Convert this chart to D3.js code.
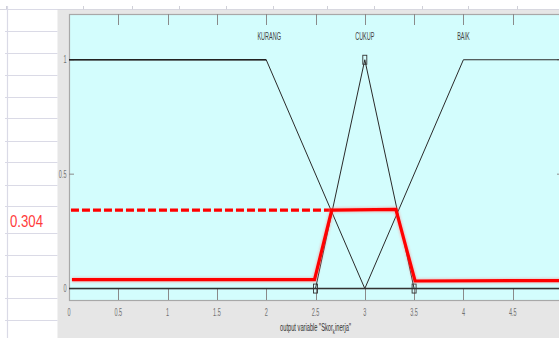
<!DOCTYPE html>
<html><head><meta charset="utf-8">
<script src="https://cdn.jsdelivr.net/npm/d3@7"></script>
<style>html,body{margin:0;padding:0;background:#fff;overflow:hidden}</style>
</head><body>
<svg id="chart" width="559" height="338"></svg>
<script>
// ---- data ----
const xTicks = [0, 0.5, 1, 1.5, 2, 2.5, 3, 3.5, 4, 4.5];
const xTickLabels = ["0", "0.5", "1", "1.5", "2", "2.5", "3", "3.5", "4", "4.5"];
const yTicks = [0, 0.5, 1];
const yTickLabels = ["0", "0.5", "1"];
const mfNames = ["KURANG", "CUKUP", "BAIK"];
const mfLabelX = [2.03, 3, 4];
const mfKurang = [[0, 1], [2, 1], [3, 0], [5, 0]];
const mfCukup = [[0, 0], [2.5, 0], [3, 1], [3.5, 0], [5, 0]];
const mfBaik = [[0, 0], [3, 0], [4, 1], [5, 1]];
const cukupParams = [[2.5, 0], [3, 1], [3.5, 0]];
const redSolid = [[0.03, 0.039], [2.49, 0.039], [2.665, 0.343], [3.315, 0.346], [3.51, 0.033], [5, 0.035]];
const redDashed = [[0.02, 0.343], [2.665, 0.343]];
const annotationValue = "0.304";
const xLabelParts = ['output variable "Skor', 'k', 'inerja"'];
const sheetRows = [9, 31, 53, 75, 97, 118, 141, 162, 185, 206, 233, 255, 276, 298, 320];
const headerSeps = [6, 83, 132, 179, 226, 273, 327, 374, 422, 468, 517];

// ---- drawing ----
const svg = d3.select("#chart");
const W = 559, H = 338;
const L = 69, R = 562, T = 14, B = 300;
const x = d3.scaleLinear().domain([0, 5]).range([L, R]);
const y = d3.scaleLinear().domain([-0.05, 1.2]).range([B, T]);

// spreadsheet background
svg.append("rect").attr("width", W).attr("height", H).attr("fill", "#ffffff");
svg.append("rect").attr("x", 57.5).attr("y", 9.5).attr("width", W - 57.5).attr("height", H - 9.5).attr("fill", "#e6e6e6");
svg.append("line").attr("x1", 0).attr("x2", W).attr("y1", 9.5).attr("y2", 9.5).attr("stroke", "#d8d8e0").attr("stroke-width", 1);
svg.selectAll(".hsep").data(headerSeps).enter().append("line")
  .attr("x1", d => d + 0.5).attr("x2", d => d + 0.5).attr("y1", 6).attr("y2", 9.5)
  .attr("stroke", "#d0d0d8");
svg.selectAll(".row").data(sheetRows).enter().append("line")
  .attr("x1", 5).attr("x2", 57.5).attr("y1", d => d + 0.5).attr("y2", d => d + 0.5)
  .attr("stroke", "#dadae6").attr("stroke-width", 1.2);
svg.append("line").attr("x1", 7.5).attr("x2", 7.5).attr("y1", 6).attr("y2", H)
  .attr("stroke", "#dadae6").attr("stroke-width", 1.2);

// annotation
svg.append("text").attr("x", 10).attr("y", 227).text(annotationValue)
  .attr("font-family", "Liberation Sans, Arial, sans-serif").attr("font-size", 16)
  .attr("fill", "#ff3b3b").attr("textLength", 33).attr("lengthAdjust", "spacingAndGlyphs");

// plot area
svg.append("rect").attr("x", L + 0.5).attr("y", T + 0.5).attr("width", R - L).attr("height", B - T)
  .attr("fill", "#d3fdfd").attr("stroke", "#a8a8a8").attr("stroke-width", 1.2);

const tickCol = "#8a8a8a";
const xt = xTicks.filter(d => d > 0);
svg.selectAll(".xtt").data(xt).enter().append("line")
  .attr("x1", d => Math.round(x(d)) + 0.5).attr("x2", d => Math.round(x(d)) + 0.5)
  .attr("y1", T).attr("y2", T + 11).attr("stroke", tickCol);
svg.selectAll(".xtb").data(xt).enter().append("line")
  .attr("x1", d => Math.round(x(d)) + 0.5).attr("x2", d => Math.round(x(d)) + 0.5)
  .attr("y1", B).attr("y2", B - 11).attr("stroke", tickCol);
svg.selectAll(".ytl").data(yTicks).enter().append("line")
  .attr("x1", L).attr("x2", L + 5).attr("y1", d => y(d)).attr("y2", d => y(d)).attr("stroke", tickCol);
svg.selectAll(".ytr").data(yTicks).enter().append("line")
  .attr("x1", R).attr("x2", R - 5).attr("y1", d => y(d)).attr("y2", d => y(d)).attr("stroke", tickCol);

const smallFont = "Liberation Sans, Arial, sans-serif";
function condText(sel, tx, ty, str, anchor, size, sx, fill) {
  return sel.append("text")
    .attr("transform", `translate(${tx},${ty}) scale(${sx},1)`)
    .attr("text-anchor", anchor).attr("font-family", smallFont)
    .attr("font-size", size).attr("fill", fill).text(str);
}
xTicks.forEach((d, i) => condText(svg, x(d), 316, xTickLabels[i], "middle", 10, 0.55, "#707070"));
yTicks.forEach((d, i) => condText(svg, 66.5, y(d) + 3.5, yTickLabels[i], "end", 10, 0.55, "#707070"));

// membership functions
const line = d3.line().x(d => x(d[0])).y(d => y(d[1]));
[mfKurang, mfCukup, mfBaik].forEach(mf => {
  svg.append("path").attr("d", line(mf)).attr("fill", "none")
    .attr("stroke", "#2a2a2a").attr("stroke-width", 1);
});
svg.append("line").attr("x1", x(0)).attr("x2", x(5)).attr("y1", y(0)).attr("y2", y(0))
  .attr("stroke", "#333").attr("stroke-width", 1.4);
svg.append("line").attr("x1", x(0)).attr("x2", x(2)).attr("y1", y(1)).attr("y2", y(1))
  .attr("stroke", "#222").attr("stroke-width", 1.4);

mfNames.forEach((n, i) => condText(svg, x(mfLabelX[i]), 40, n, "middle", 11, 0.5, "#404040"));

svg.selectAll(".sq").data(cukupParams).enter().append("rect")
  .attr("x", d => x(d[0]) - 2).attr("y", d => y(d[1]) - 4.5)
  .attr("width", 4).attr("height", 9).attr("fill", "none")
  .attr("stroke", "#333").attr("stroke-width", 0.9);

// red overlay
const defs = svg.append("defs");
defs.append("filter").attr("id", "glow").append("feGaussianBlur").attr("stdDeviation", 1.2);
[[redDashed, "8,3"], [redSolid, null]].forEach(([pts, dash]) => {
  svg.append("path").attr("d", line(pts)).attr("fill", "none")
    .attr("stroke", "#ff8080").attr("stroke-width", 5).attr("opacity", 0.45)
    .attr("filter", "url(#glow)").attr("stroke-dasharray", dash);
  svg.append("path").attr("d", line(pts)).attr("fill", "none")
    .attr("stroke", "#ff0000").attr("stroke-width", 3.2)
    .attr("stroke-dasharray", dash);
});

// x axis label with subscript
const xl = svg.append("text")
  .attr("transform", `translate(${(L + R) / 2},331) scale(0.52,1)`)
  .attr("text-anchor", "middle").attr("font-family", smallFont)
  .attr("font-size", 11).attr("fill", "#303030");
xl.append("tspan").text(xLabelParts[0]);
xl.append("tspan").attr("dy", 3).attr("font-size", 8).text(xLabelParts[1]);
xl.append("tspan").attr("dy", -3).text(xLabelParts[2]);
</script>
</body></html>
